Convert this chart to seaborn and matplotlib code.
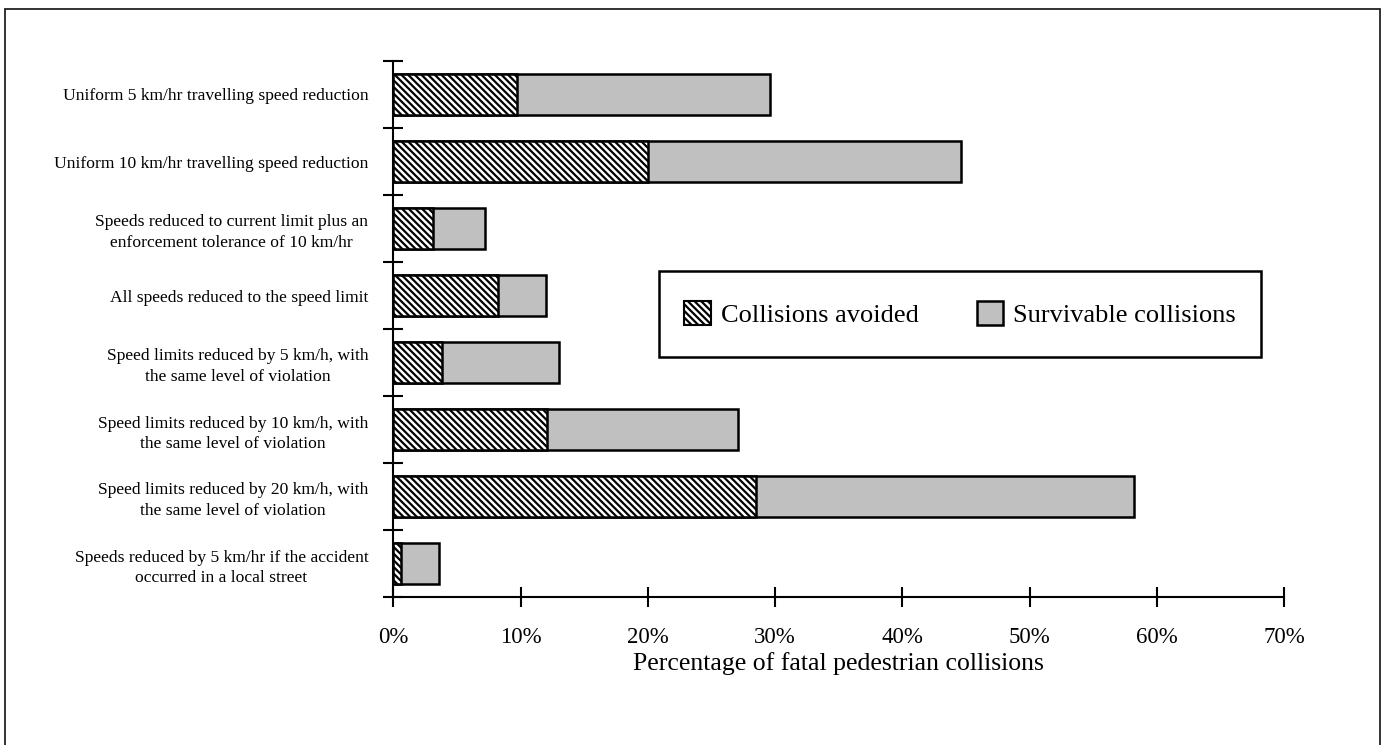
import numpy as np
import pandas as pd
import matplotlib
matplotlib.use("Agg")
import matplotlib.pyplot as plt
from matplotlib.patches import Patch, Rectangle
import seaborn as sns

categories = [
    "Uniform 5 km/hr travelling speed reduction",
    "Uniform 10 km/hr travelling speed reduction",
    "Speeds reduced to current limit plus an\nenforcement tolerance of 10 km/hr",
    "All speeds reduced to the speed limit",
    "Speed limits reduced by 5 km/h, with\nthe same level of violation",
    "Speed limits reduced by 10 km/h, with\nthe same level of violation",
    "Speed limits reduced by 20 km/h, with\nthe same level of violation",
    "Speeds reduced by 5 km/hr if the accident\noccurred in a local street",
]
avoided = [9.7, 20.0, 3.1, 8.2, 3.8, 12.1, 28.5, 0.6]
survivable = [19.9, 24.6, 4.1, 3.8, 9.2, 15.0, 29.7, 3.0]
x_ticks = [0, 10, 20, 30, 40, 50, 60, 70]
series_names = ["Collisions avoided", "Survivable collisions"]
x_title = "Percentage of fatal pedestrian collisions"

sns.set_theme(style="white")
plt.rcParams["font.family"] = ["Liberation Serif", "DejaVu Serif"]
plt.rcParams["hatch.linewidth"] = 1.6
plt.rcParams["hatch.color"] = "black"
for k in ["text.color", "axes.labelcolor", "xtick.color", "ytick.color",
          "xtick.labelcolor", "ytick.labelcolor"]:
    plt.rcParams[k] = "black"

HATCH = "\\\\\\\\\\"

df = pd.DataFrame({
    "category": categories,
    "avoided": avoided,
    "total": np.array(avoided) + np.array(survivable),
})

W, H = 1388, 745
fig = plt.figure(figsize=(W / 100, H / 100), dpi=100)
ax = fig.add_axes([393.3 / W, 1 - 597 / H, (1284 - 393.3) / W, (597 - 61) / H])

gray = "#C0C0C0"
sns.barplot(data=df, x="total", y="category", orient="h", color=gray,
            saturation=1, width=0.61, edgecolor="black", linewidth=1.8, ax=ax)
sns.barplot(data=df, x="avoided", y="category", orient="h", color="white",
            saturation=1, width=0.61, edgecolor="black", linewidth=1.8,
            hatch=HATCH, ax=ax)

ax.set_xlim(0, 70)
ax.set_ylim(7.5, -0.5)

# major ticks at category boundaries, labels on minor ticks at centres
ax.set_yticks(np.arange(-0.5, 8, 1.0))
ax.set_yticklabels([])
ax.set_yticks(np.arange(len(categories)), minor=True)
ax.set_yticklabels(categories, minor=True, fontsize=12.6, color="black",
                   ha="right", multialignment="center", linespacing=1.4)
ax.tick_params(axis="y", which="major", direction="inout", length=13.7,
               width=1.5, color="black", left=True)
ax.tick_params(axis="y", which="minor", length=0, pad=18, left=True)

ax.set_xticks(x_ticks)
ax.set_xticklabels([f"{v}%" for v in x_ticks], fontsize=16.5, color="black")
ax.tick_params(axis="x", which="major", direction="inout", length=13.7,
               width=1.5, color="black", pad=14.5, bottom=True)

ax.set_xlabel(x_title, fontsize=18.5, labelpad=3.5, color="black")
ax.set_ylabel("")

for s in ["top", "right"]:
    ax.spines[s].set_visible(False)
for s in ["left", "bottom"]:
    ax.spines[s].set_linewidth(1.5)
    ax.spines[s].set_color("black")

# legend box
x0, y0, x1, y1 = 659, 271, 1261, 357
fig.patches.append(Rectangle((x0 / W, 1 - y1 / H), (x1 - x0) / W, (y1 - y0) / H,
                             transform=fig.transFigure, fill=False,
                             edgecolor="black", linewidth=1.8, zorder=5))
handles = [
    Patch(facecolor="white", edgecolor="black", hatch=HATCH, linewidth=1.5),
    Patch(facecolor=gray, edgecolor="black", linewidth=1.8),
]
leg = fig.legend(handles, series_names, loc="center", ncol=2,
                 bbox_to_anchor=((x0 + x1) / 2 / W, 1 - (y0 + y1) / 2 / H),
                 frameon=False, fontsize=19, handlelength=1.0, handleheight=1.0,
                 handletextpad=0.38, columnspacing=2.2)
for t in leg.get_texts():
    t.set_color("black")

# figure border (bottom edge lies outside the image)
fig.patches.append(Rectangle((5 / W, -0.05), (1380 - 5) / W, 1.05 - 9 / H,
                             transform=fig.transFigure, fill=False,
                             edgecolor="#222222", linewidth=1.3))

fig.savefig("out.png", dpi=100)
